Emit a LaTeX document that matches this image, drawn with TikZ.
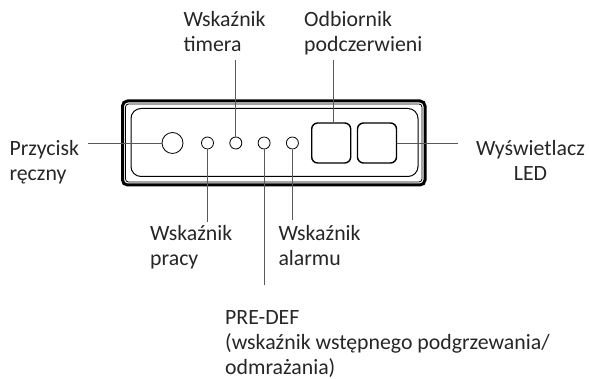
\documentclass[tikz,border=0pt]{standalone}
\usepackage{fontspec}
\setmainfont{Carlito}
\usetikzlibrary{positioning}
\tikzstyle{every node}=[font=\fontsize{21.8}{25.2}\selectfont, text=black!85]
\tikzstyle{led}=[draw, circle, minimum size=12pt, inner sep=0pt, line width=0.8pt]
\tikzstyle{knob}=[draw, circle, minimum size=21pt, inner sep=0pt, line width=0.8pt]
\tikzstyle{digit}=[draw, rectangle, rounded corners=6pt, minimum width=39pt, minimum height=40pt, line width=1.4pt]
\tikzstyle{callout}=[draw=black!65, line width=0.7pt]
\tikzstyle{tag}=[inner sep=0pt, align=left]

\begin{document}
\begin{tikzpicture}[x=1pt, y=1pt]
    \useasboundingbox (0,0) rectangle (589,379);
    % housing
    \draw[line width=3pt, rounded corners=5pt] (122.5,194) rectangle (425,278);
    \draw[line width=0.8pt, rounded corners=3pt] (125.5,197) rectangle (422,275);
    \draw[line width=1pt, rounded corners=10pt] (131,202.5) rectangle (418,270.5);
    % controls
    \node[knob] (knob) at (172.5,236) {};
    \node[led, right of=knob, node distance=35pt] (work) {};
    \node[led, right of=work, node distance=28.3pt] (timer) {};
    \node[led, right of=timer, node distance=28.3pt] (predef) {};
    \node[led, right of=predef, node distance=28.3pt] (alarm) {};
    \node[digit] (ir) at (331.2,236) {};
    \node[digit, right of=ir, node distance=45.8pt] (disp) {};
    % labels (anchored at the baseline of their last line)
    \node[tag, anchor=base west] (knobtxt) at (9.3,198) {Przycisk\\ręczny};
    \node[tag, anchor=base west] (timertxt) at (183.3,327.3) {Wskaźnik\\timera};
    \node[tag, anchor=base west] (irtxt) at (304,327.3) {Odbiornik\\podczerwieni};
    \node[tag, anchor=base, align=center] (disptxt) at (530.5,198) {Wyświetlacz\\LED};
    \node[tag, anchor=base west] (worktxt) at (150,113) {Wskaźnik\\pracy};
    \node[tag, anchor=base west] (alarmtxt) at (278.3,113) {Wskaźnik\\alarmu};
    \node[tag, anchor=base west] (predeftxt) at (225,4.5) {PRE-DEF\\(wskaźnik wstępnego podgrzewania/\\odmrażania)};
    % free ends of the callouts
    \coordinate (knobend) at (88.3,236);
    \coordinate (dispend) at (458.3,236);
    \coordinate (timerend) at (235.8,319);
    \coordinate (irend) at (333,319);
    \coordinate (workend) at (207.5,157);
    \coordinate (predefend) at (264.1,94);
    \coordinate (alarmend) at (292.4,159);
    \draw[callout] (knobend) -- (knob);
    \draw[callout] (disp) -- (dispend);
    \draw[callout] (timer) -- (timerend);
    \draw[callout] (ir.north -| irend) -- (irend);
    \draw[callout] (work) -- (workend);
    \draw[callout] (predef) -- (predefend);
    \draw[callout] (alarm) -- (alarmend);
\end{tikzpicture}
\end{document}
